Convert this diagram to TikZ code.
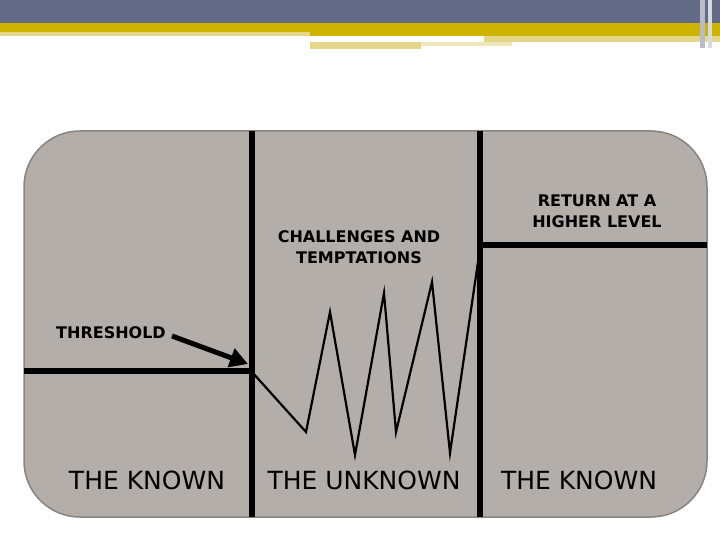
\documentclass[tikz,border=0pt]{standalone}
\usepackage{fontspec}
\setmainfont{DejaVu Sans}
\usetikzlibrary{arrows.meta}
\definecolor{barblue}{HTML}{636B86}
\definecolor{baryel}{HTML}{CCB400}
\definecolor{lightyel}{HTML}{E4D78A}
\definecolor{panel}{HTML}{B4AEAA}
\definecolor{paneledge}{HTML}{8A847F}
\tikzset{
  heavy/.style={line width=6pt, black},
  zig/.style={line width=2.2pt, black, line join=miter},
  small/.style={font=\bfseries\fontsize{16}{21}\selectfont, align=center, inner sep=0pt},
  big/.style={font=\fontsize{25}{28}\selectfont, inner sep=0pt},
}
\begin{document}
\begin{tikzpicture}[x=1pt,y=-1pt]
\useasboundingbox (0,0) rectangle (720,540);
\fill[white] (0,0) rectangle (720,540);
% header bars
\fill[barblue] (0,0) rectangle (720,23);
\fill[baryel] (0,23) rectangle (720,32);
\fill[baryel] (310,32) rectangle (720,36);
\fill[lightyel] (0,32) rectangle (310,36);
\fill[lightyel] (484,36) rectangle (720,42);
\fill[lightyel] (310,42) rectangle (421,49);
\fill[lightyel!60] (421,42) rectangle (512,46);
\fill[barblue!45] (700,0) rectangle (705,48);
\fill[barblue!25] (708,0) rectangle (712,48);
% panel
\filldraw[fill=panel, draw=paneledge, line width=1.5pt, rounded corners=56pt] (24,131) rectangle (707,517);
% coordinates
\coordinate (v1t) at (252,131);
\coordinate (v1b) at (252,517);
\coordinate (v2t) at (480,131);
\coordinate (v2b) at (480,517);
\coordinate (hl) at (24,371);
\coordinate (hr) at (707,245);
\draw[heavy] (v1t) -- (v1b);
\draw[heavy] (v2t) -- (v2b);
\draw[heavy] (hl) -- (v1t |- hl);
\draw[heavy] (v2t |- hr) -- (hr);
% zigzag
\coordinate (z0) at (252,372);
\draw[zig] (z0) -- (306,432) -- (330,312) -- (355,455) -- (384,293)
  -- (396,432) -- (432,282) -- (450,453) -- (478,262);
% texts
\node[small] (chal) at (359,247) {CHALLENGES AND\\TEMPTATIONS};
\node[small] (ret) at (597,211) {RETURN AT A\\HIGHER LEVEL};
\node[small, anchor=west] (thr) at (56,333) {THRESHOLD};
\node[big] (k1) at (147,480) {THE KNOWN};
\node[big] (uk) at (364,480) {THE UNKNOWN};
\node[big] (k2) at (579,480) {THE KNOWN};
% arrow
\coordinate (as) at (172,336);
\coordinate (ae) at (248,364);
\draw[line width=5pt, -{Triangle[length=18pt,width=19pt]}] (as) -- (ae);
\end{tikzpicture}
\end{document}
